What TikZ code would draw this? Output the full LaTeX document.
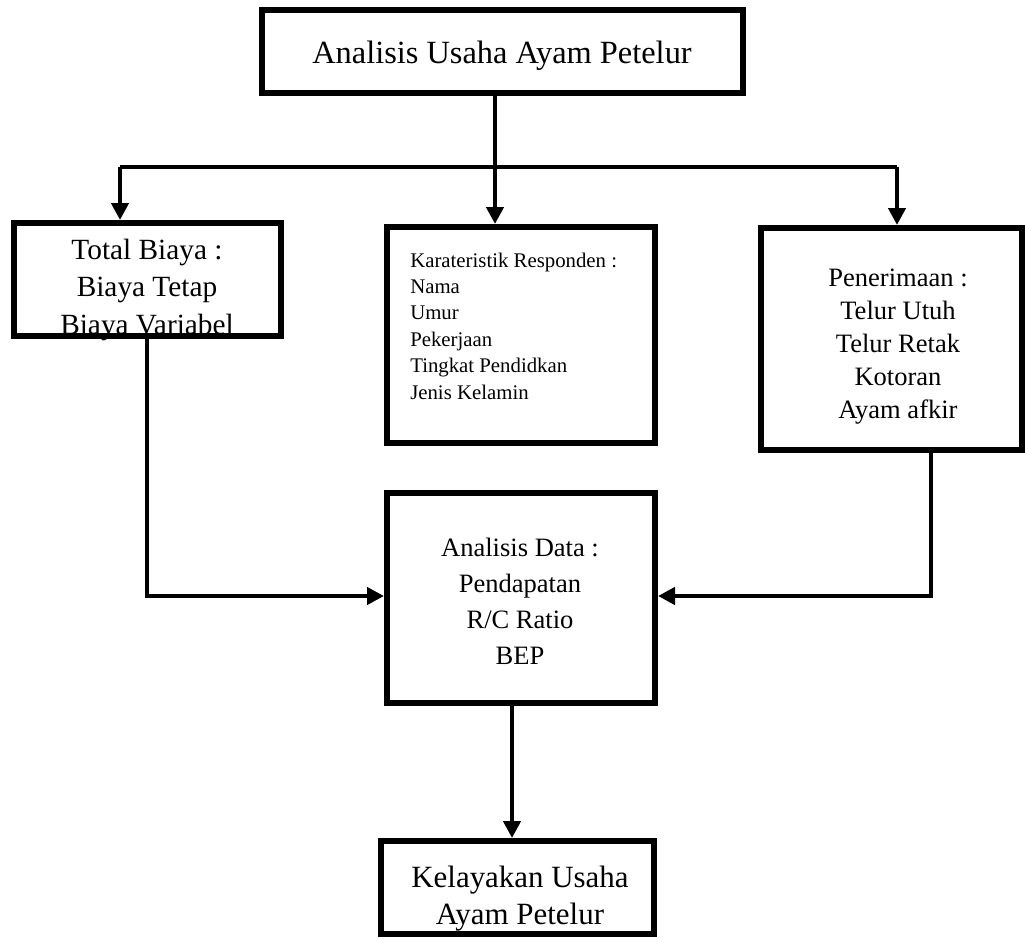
\documentclass[tikz,border=0pt]{standalone}
\usepackage{fontspec}
\setmainfont{Liberation Serif}
\usetikzlibrary{arrows.meta}

\begin{document}
\begin{tikzpicture}[x=0.75pt,y=0.75pt,yscale=-1,xscale=1,
  box/.style={draw,line width=4.5pt,inner sep=0pt},
  txt/.style={inner sep=0pt,align=center},
  conn/.style={line width=3.2pt},
  arr/.style={conn,-{Triangle[length=12.75pt,width=12.75pt]}}]
\useasboundingbox (0,0) rectangle (1025,939);

%Shape: Rectangle [title]
\node [box,minimum width=360.75pt,minimum height=62.25pt] (title) at (502.5,51.5) {};
%Shape: Rectangle [total biaya]
\node [box,minimum width=200.25pt,minimum height=84.75pt] (total) at (147.5,279.5) {};
%Shape: Rectangle [responden]
\node [box,minimum width=201pt,minimum height=162pt] (resp) at (521,335) {};
%Shape: Rectangle [penerimaan]
\node [box,minimum width=195.75pt,minimum height=166.5pt] (rev) at (891.5,339) {};
%Shape: Rectangle [analisis data]
\node [box,minimum width=201pt,minimum height=157.5pt] (data) at (521,598) {};
%Shape: Rectangle [kelayakan]
\node [box,minimum width=204.75pt,minimum height=69.75pt] (result) at (517.5,887.5) {};

% Text Node
\node [txt,font=\fontsize{24.3}{30}\selectfont] (titleText) at (502,55.5) {Analisis Usaha Ayam Petelur};
% Text Node
\node [txt,font=\fontsize{22}{28.1}\selectfont] (totalText) at (147,289.7) {Total Biaya :\\Biaya Tetap\\Biaya Variabel};
% Text Node
\node [txt,align=left,anchor=west,font=\fontsize{15.6}{19.8}\selectfont] (respText) at (410,326) {Karateristik Responden :\\Nama\\Umur\\Pekerjaan\\Tingkat Pendidkan\\Jenis Kelamin};
% Text Node
\node [txt,font=\fontsize{19.9}{24.75}\selectfont] (revText) at (898,347) {Penerimaan :\\Telur Utuh\\Telur Retak\\Kotoran\\Ayam afkir};
% Text Node
\node [txt,font=\fontsize{19.9}{27}\selectfont] (dataText) at (520,601) {Analisis Data :\\Pendapatan\\R/C Ratio\\BEP};
% Text Node
\node [txt,font=\fontsize{23.2}{27.75}\selectfont] (resultText) at (520,899) {Kelayakan Usaha\\Ayam Petelur};

%Straight Lines [branch]
\coordinate (split) at (495,167);
\coordinate (leftDrop) at (120,167);
\coordinate (rightDrop) at (897,167);
\draw [conn] (split |- title.south) -- (split);
\draw [conn] (leftDrop) -- (rightDrop);
\draw [arr] (leftDrop) -- (leftDrop |- total.north);
\draw [arr] (split) -- (split |- resp.north);
\draw [arr] (rightDrop) -- (rightDrop |- rev.north);

%Straight Lines [into analisis data]
\coordinate (costDown) at (147,596);
\coordinate (revDown) at (931,596);
\draw [arr] (costDown |- total.south) -- (costDown) -- (data.west |- costDown);
\draw [arr] (revDown |- rev.south) -- (revDown) -- (data.east |- revDown);

%Straight Lines [to kelayakan]
\coordinate (outDrop) at (512,827);
\draw [arr] (outDrop |- data.south) -- (outDrop |- result.north);

\end{tikzpicture}
\end{document}
